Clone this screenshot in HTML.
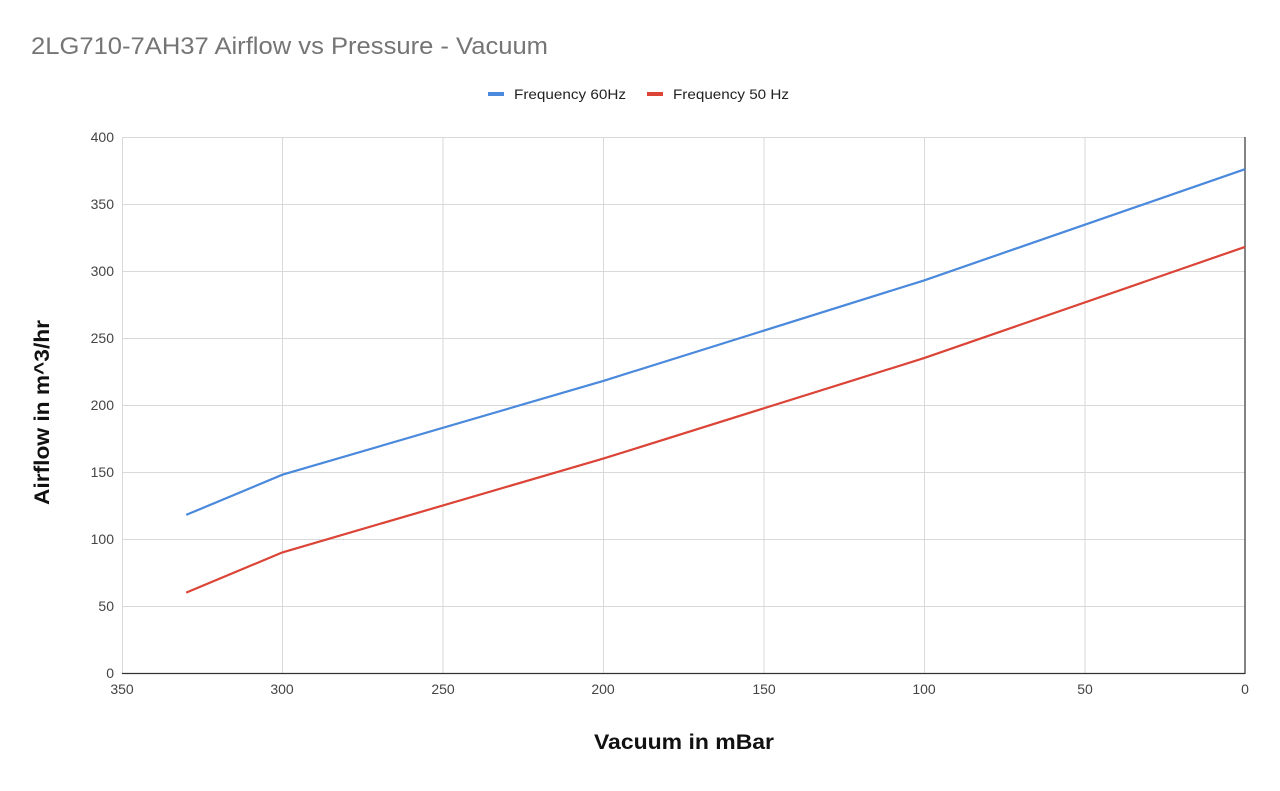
<!DOCTYPE html>
<html><head><style>body{margin:0;background:#fff}svg{display:block;font-family:"Liberation Sans",Arial,sans-serif}</style></head><body>
<svg width="1280" height="791" viewBox="0 0 1280 791" xmlns="http://www.w3.org/2000/svg">
<rect width="1280" height="791" fill="#fff"/>
<text x="31" y="54" font-size="24" fill="#757575" textLength="517" lengthAdjust="spacingAndGlyphs">2LG710-7AH37 Airflow vs Pressure - Vacuum</text>
<rect x="488" y="92" width="16" height="4" fill="#4a89dc"/>
<text x="514" y="99" font-size="14" fill="#222" textLength="112" lengthAdjust="spacingAndGlyphs">Frequency 60Hz</text>
<rect x="647" y="92" width="16" height="4" fill="#db4437"/>
<text x="673" y="99" font-size="14" fill="#222" textLength="116" lengthAdjust="spacingAndGlyphs">Frequency 50 Hz</text>
<g stroke="#d9d9d9" stroke-width="1">
<line x1="122" y1="137.5" x2="1245" y2="137.5"/><line x1="122" y1="204.5" x2="1245" y2="204.5"/><line x1="122" y1="271.5" x2="1245" y2="271.5"/><line x1="122" y1="338.5" x2="1245" y2="338.5"/><line x1="122" y1="405.5" x2="1245" y2="405.5"/><line x1="122" y1="472.5" x2="1245" y2="472.5"/><line x1="122" y1="539.5" x2="1245" y2="539.5"/><line x1="122" y1="606.5" x2="1245" y2="606.5"/>
<line x1="122.5" y1="137" x2="122.5" y2="673"/><line x1="282.5" y1="137" x2="282.5" y2="673"/><line x1="443" y1="137" x2="443" y2="673"/><line x1="603.5" y1="137" x2="603.5" y2="673"/><line x1="764" y1="137" x2="764" y2="673"/><line x1="924.5" y1="137" x2="924.5" y2="673"/><line x1="1085" y1="137" x2="1085" y2="673"/>
</g>
<line x1="1245" y1="137" x2="1245" y2="674" stroke="#333" stroke-width="1.2"/>
<line x1="122" y1="673.5" x2="1245" y2="673.5" stroke="#333" stroke-width="1.2"/>
<g font-size="14" fill="#444" text-anchor="end">
<text x="114" y="142">400</text><text x="114" y="209">350</text><text x="114" y="276">300</text><text x="114" y="343">250</text><text x="114" y="410">200</text><text x="114" y="477">150</text><text x="114" y="544">100</text><text x="114" y="611">50</text><text x="114" y="678">0</text>
</g>
<g font-size="14" fill="#444" text-anchor="middle">
<text x="122" y="694">350</text><text x="282" y="694">300</text><text x="443" y="694">250</text><text x="603" y="694">200</text><text x="764" y="694">150</text><text x="924" y="694">100</text><text x="1085" y="694">50</text><text x="1245" y="694">0</text>
</g>
<polyline fill="none" stroke="#4a89dc" stroke-width="2.2" points="186.2,514.9 282.4,474.7 603.3,380.9 924.1,280.4 1245,169.2"/>
<polyline fill="none" stroke="#db4437" stroke-width="2.2" points="186.2,592.6 282.4,552.4 603.3,458.6 924.1,358.1 1245,246.9"/>
<text x="594" y="749" font-size="21" font-weight="bold" fill="#111" textLength="180" lengthAdjust="spacingAndGlyphs">Vacuum in mBar</text>
<text transform="translate(49,505) rotate(-90)" font-size="21" font-weight="bold" fill="#111" textLength="185" lengthAdjust="spacingAndGlyphs">Airflow in m^3/hr</text>
</svg>
</body></html>
